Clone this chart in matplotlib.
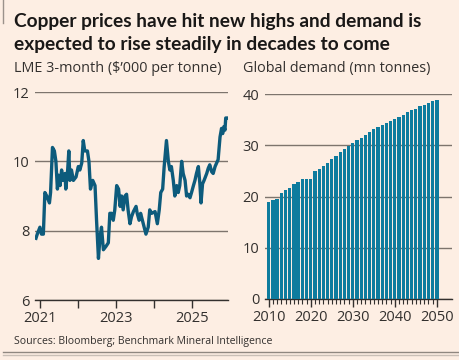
import matplotlib
matplotlib.use("Agg")
import matplotlib.pyplot as plt
from matplotlib.lines import Line2D

# LME 3-month copper price, $'000 per tonne
price_dates = [
    2020.895, 2020.93, 2021.00, 2021.04, 2021.09, 2021.13, 2021.18, 2021.25, 2021.28, 2021.33,
    2021.38, 2021.42, 2021.46, 2021.49, 2021.53, 2021.57, 2021.61, 2021.66, 2021.68, 2021.73,
    2021.76, 2021.79, 2021.83, 2021.88, 2021.95, 2022.01, 2022.05, 2022.10, 2022.14, 2022.18,
    2022.25, 2022.29, 2022.33, 2022.39, 2022.45, 2022.49, 2022.54, 2022.58, 2022.62, 2022.67,
    2022.74, 2022.80, 2022.84, 2022.89, 2022.93, 2022.97, 2023.02, 2023.07, 2023.11, 2023.15,
    2023.19, 2023.24, 2023.28, 2023.32, 2023.37, 2023.41, 2023.46, 2023.53, 2023.56, 2023.61,
    2023.65, 2023.72, 2023.79, 2023.85, 2023.89, 2023.94, 2024.03, 2024.09, 2024.14, 2024.18,
    2024.23, 2024.27, 2024.33, 2024.38, 2024.42, 2024.46, 2024.51, 2024.55, 2024.60, 2024.64,
    2024.68, 2024.73, 2024.77, 2024.82, 2024.86, 2024.90, 2024.95, 2024.99, 2025.04, 2025.08,
    2025.12, 2025.17, 2025.21, 2025.24, 2025.28, 2025.32, 2025.39, 2025.43, 2025.47, 2025.52,
    2025.56, 2025.61, 2025.65, 2025.69, 2025.74, 2025.78, 2025.81, 2025.84, 2025.87, 2025.89,
    2025.93,
]
price_values = [
    7.78, 7.9, 8.1, 7.9, 7.9, 9.1, 9.0, 8.8, 9.1, 10.4,
    10.3, 10.0, 9.2, 9.6, 9.3, 9.75, 9.45, 9.65, 9.2, 9.75,
    10.3, 9.45, 9.75, 9.45, 9.55, 9.85, 9.75, 9.95, 10.6, 10.3,
    10.3, 10.0, 9.2, 9.45, 9.3, 8.3, 7.2, 7.8, 8.1, 7.45,
    7.55, 7.65, 8.5, 8.5, 8.3, 8.6, 9.3, 9.2, 8.7, 9.0,
    8.6, 9.0, 9.05, 8.6, 8.2, 8.4, 8.55, 8.7, 8.5, 8.3,
    8.5, 8.2, 7.9, 8.1, 8.6, 8.5, 8.55, 8.2, 8.6, 9.1,
    9.2, 9.85, 10.6, 10.0, 9.75, 9.85, 9.45, 9.0, 9.3, 9.1,
    9.3, 10.0, 9.65, 9.45, 9.0, 9.05, 8.95, 9.1, 9.3, 9.45,
    9.65, 9.85, 9.35, 8.8, 9.35, 9.45, 9.65, 9.8, 9.9, 9.7,
    9.65, 9.85, 9.95, 10.05, 10.7, 10.95, 10.8, 11.0, 10.9, 11.25,
    11.25,
]
price_ticks = [2021, 2022, 2023, 2024, 2025]
price_ticklabels = ["2021", "", "2023", "", "2025"]

# Global copper demand, mn tonnes
demand_years = list(range(2010, 2051))
demand_values = [
    18.9, 19.35, 19.6, 20.6, 21.3, 21.7, 22.5, 22.8, 23.5, 23.5,
    23.4, 25.0, 25.3, 26.0, 26.6, 27.3, 27.9, 28.6, 29.3, 29.8,
    30.4, 31.0, 31.5, 32.0, 32.5, 33.1, 33.6, 34.0, 34.4, 34.7,
    35.2, 35.6, 36.0, 36.4, 36.8, 37.1, 37.6, 37.9, 38.2, 38.6,
    38.9,
]

bg = "#fdeee3"
ink = "#1a1817"
grey = "#33302e"
grid = "#7d746d"

plt.rcParams["font.family"] = ["Open Sans", "DejaVu Sans"]

fig = plt.figure(figsize=(4.6, 3.6), dpi=100, facecolor=bg)
W, H = 460, 360

def box(left, top, right, bottom):
    return [left / W, 1 - bottom / H, (right - left) / W, (bottom - top) / H]

# left panel: price line
ax1 = fig.add_axes(box(35, 92, 228, 300), facecolor=bg)
ax1.plot(price_dates, price_values, color="#0d5b7c", lw=2.4, solid_joinstyle="round", zorder=3)
ax1.set_xlim(2020.87, 2025.95)
ax1.set_ylim(6, 12)
ax1.set_yticks([6, 8, 10, 12])
ax1.set_xticks(price_ticks)
ax1.set_xticklabels(price_ticklabels)
ax1.grid(axis="y", color=grid, lw=1)
ax1.set_axisbelow(True)

# right panel: demand bars
ax2 = fig.add_axes(box(265, 94, 452, 299), facecolor=bg)
ax2.bar(demand_years, demand_values, width=0.78, color="#0e7c9e", zorder=3)
ax2.set_xlim(2009.12, 2053.6)
ax2.set_ylim(0, 40)
ax2.set_yticks([0, 10, 20, 30, 40])
ax2.set_xticks([2010, 2020, 2030, 2040, 2050])
ax2.set_xticks(demand_years, minor=True)
ax2.grid(axis="y", color=grid, lw=1)
ax2.set_axisbelow(True)

for ax in (ax1, ax2):
    for s in ("left", "right", "top"):
        ax.spines[s].set_visible(False)
    ax.spines["bottom"].set_color("#33302e")
    ax.spines["bottom"].set_linewidth(1)
    ax.tick_params(axis="y", length=0, pad=4, labelsize=10.5, labelcolor=grey)
    ax.tick_params(axis="x", which="major", length=6, width=1, color="#33302e",
                   pad=2, labelsize=10.5, labelcolor=grey)
ax2.tick_params(axis="x", which="minor", length=3.5, width=0.8, color="#33302e")

title_kw = dict(family=["Lato", "DejaVu Sans"], fontsize=13.8, fontweight="bold",
                color=ink, va="baseline")
fig.text(14 / W, 1 - 27 / H, "Copper prices have hit new highs and demand is", **title_kw)
fig.text(14 / W, 1 - 50 / H, "expected to rise steadily in decades to come", **title_kw)
fig.text(14 / W, 1 - 72 / H, "LME 3-month ($\u2019000 per tonne)",
         fontsize=10.4, color=grey, va="baseline")
fig.text(243 / W, 1 - 72 / H, "Global demand (mn tonnes)",
         fontsize=10.4, color=grey, va="baseline")
fig.text(14 / W, 1 - 344 / H, "Sources: Bloomberg; Benchmark Mineral Intelligence",
         fontsize=7.6, color=grey, va="baseline")

# card frame bits
fig.add_artist(Line2D([3 / W, 3 / W], [1, 1 - 23 / H], color="#9b928b", lw=1))
fig.add_artist(Line2D([3 / W, 1], [1 - 352 / H, 1 - 352 / H], color="#8f8780", lw=1))
fig.add_artist(Line2D([3 / W, 1], [1 - 355 / H, 1 - 355 / H], color="#c9bfb6", lw=1))

fig.savefig("out.png", dpi=100, facecolor=bg)
